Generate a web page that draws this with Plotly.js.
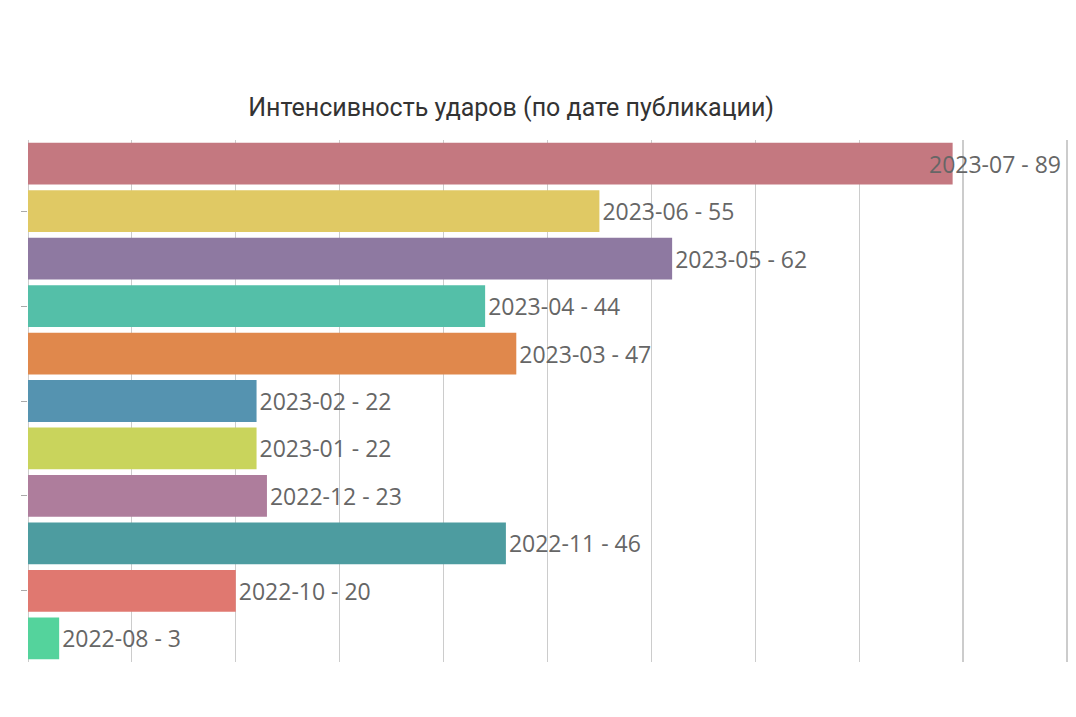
<!DOCTYPE html>
<html><head><meta charset="utf-8">
<script src="https://cdn.plot.ly/plotly-3.0.1.min.js"></script>
<style>html,body{margin:0;padding:0;background:#fff}#chart{width:1076px;height:717px}</style>
</head><body><div id="chart"></div>
<script>
const months = ["2022-08","2022-10","2022-11","2022-12","2023-01","2023-02","2023-03","2023-04","2023-05","2023-06","2023-07"];
const counts = [3,20,46,23,22,22,47,44,62,55,89];
const barColors = ["#54d39c","#e07870","#4d9ca0","#ae7d9c","#c9d45c","#5593b0","#e0884c","#54bfa8","#8e79a1","#e0c964","#c47880"];
const labels = months.map((m,i)=>m+" - "+counts[i]);
const xMax = 100;
const maxVal = Math.max(...counts);
// the longest bar's label is pushed back inside the plot area (right-aligned at the axis end)
const textPos = counts.map(v => v === maxVal ? "none" : "outside");
const labelFont = {family:"'Open Sans', sans-serif", size:23, color:"#666"};
const annotations = counts.map((v,i)=> v === maxVal ? {
  x:xMax, y:months[i], xref:"x", yref:"y", xanchor:"right", yanchor:"middle",
  xshift:-4, text:labels[i], showarrow:false, font:labelFont
} : null).filter(a=>a);

Plotly.newPlot("chart",[{
  type:"bar", orientation:"h",
  y:months, x:counts,
  marker:{color:barColors},
  text:labels, textposition:textPos, cliponaxis:false,
  textfont:labelFont, outsidetextfont:labelFont,
  hoverinfo:"none"
}],{
  width:1076, height:717,
  margin:{l:28,r:7,t:140,b:55},
  paper_bgcolor:"#fff", plot_bgcolor:"#fff",
  title:{text:"Интенсивность ударов (по дате публикации)", x:0.475, xanchor:"center", y:0.85, yanchor:"middle",
    font:{family:"Roboto, 'Open Sans', sans-serif", size:25, color:"#333"}},
  bargap:0.12,
  showlegend:false,
  annotations:annotations,
  xaxis:{range:[0,xMax+0.2], dtick:10, tick0:0, showticklabels:false, showgrid:true, gridcolor:"#cccccc", gridwidth:1.2, zeroline:true, zerolinecolor:"#cccccc", showline:false, fixedrange:true},
  yaxis:{type:"category", categoryorder:"array", categoryarray:months, showticklabels:false, showgrid:false, ticks:"outside", ticklen:6, tickcolor:"#aaa", tick0:1, dtick:2, showline:false, zeroline:false}
},{displayModeBar:false, staticPlot:true});
</script></body></html>
